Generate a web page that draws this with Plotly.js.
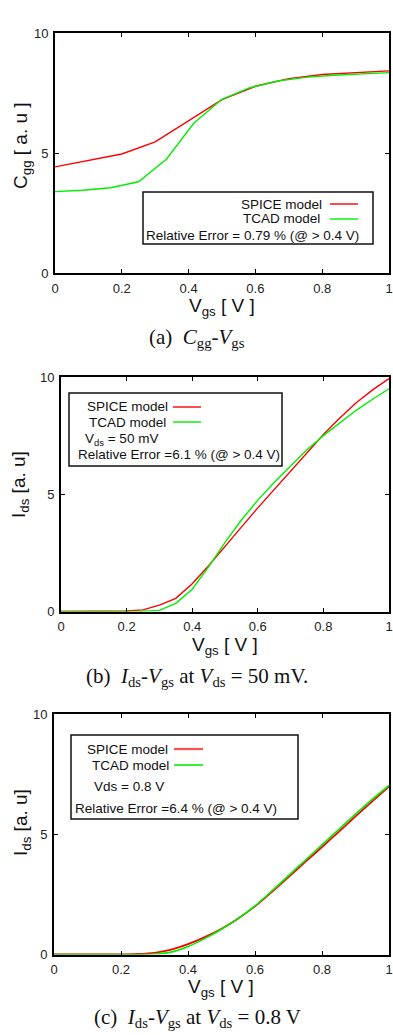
<!DOCTYPE html>
<html>
<head>
<meta charset="utf-8">
<script src="https://cdn.plot.ly/plotly-3.0.1.min.js"></script>
<style>html,body{margin:0;padding:0;background:#fff;}#chart{width:393px;height:1035px;}</style>
</head>
<body>
<div id="chart"></div>
<script>
// ---- data ----
const xTickVals = [0, 0.2, 0.4, 0.6, 0.8, 1];
const xTickText = ["0", "0.2", "0.4", "0.6", "0.8", "1"];
const yTickVals = [0, 5, 10];
const yTickText = ["0", "5", "10"];

// (a) Cgg-Vgs
const cggSpiceV = [0, 0.1, 0.2, 0.3, 0.4, 0.5, 0.6, 0.7, 0.8, 0.9, 1.0];
const cggSpice  = [4.42, 4.68, 4.96, 5.46, 6.33, 7.22, 7.78, 8.10, 8.27, 8.36, 8.42];
const cggTcadV  = [0, 0.0833, 0.1667, 0.25, 0.3333, 0.4167, 0.5, 0.5833, 0.6667, 0.75, 0.8333, 0.9167, 1.0];
const cggTcad   = [3.39, 3.45, 3.55, 3.80, 4.74, 6.26, 7.24, 7.72, 8.00, 8.15, 8.24, 8.30, 8.35];

// (b) Ids-Vgs at Vds = 50 mV
const vgsB       = [0, 0.05, 0.1, 0.15, 0.2, 0.25, 0.3, 0.35, 0.4, 0.45, 0.5, 0.55, 0.6, 0.65, 0.7, 0.75, 0.8, 0.85, 0.9, 0.95, 1.0];
const idsSpiceB  = [0, 0, 0, 0.01, 0.02, 0.07, 0.27, 0.56, 1.18, 1.95, 2.80, 3.60, 4.42, 5.20, 5.98, 6.75, 7.55, 8.25, 8.90, 9.45, 9.93];
const idsTcadB   = [0, 0, 0, 0, 0, 0.01, 0.05, 0.35, 0.95, 1.90, 2.95, 3.90, 4.75, 5.50, 6.20, 6.90, 7.50, 8.05, 8.58, 9.05, 9.50];

// (c) Ids-Vgs at Vds = 0.8 V
const vgsC       = [0, 0.05, 0.1, 0.15, 0.2, 0.25, 0.3, 0.35, 0.4, 0.45, 0.5, 0.55, 0.6, 0.65, 0.7, 0.75, 0.8, 0.85, 0.9, 0.95, 1.0];
const idsSpiceC  = [0, 0, 0, 0, 0, 0.02, 0.07, 0.20, 0.43, 0.72, 1.07, 1.50, 2.00, 2.60, 3.22, 3.85, 4.47, 5.10, 5.74, 6.37, 6.98];
const idsTcadC   = [0, 0, 0, 0, 0, 0, 0.02, 0.10, 0.33, 0.66, 1.05, 1.50, 2.02, 2.64, 3.28, 3.92, 4.56, 5.20, 5.84, 6.45, 7.03];

const seriesNames = ["SPICE model", "TCAD model"];
const legendNotes = [
  "Relative Error = 0.79 % (@ > 0.4 V)",
  "V<sub>ds</sub> = 50 mV",
  "Relative Error =6.1 % (@ > 0.4 V)",
  "Vds = 0.8 V",
  "Relative Error =6.4 % (@ > 0.4 V)"
];
const xTitle = "V<sub>gs</sub> [ V ]";
const yTitles = ["C<sub>gg</sub> [ a. u ]", "I<sub>ds</sub> [a. u]", "I<sub>ds</sub> [a. u]"];
const captions = [
  "(a)&nbsp; <i>C</i><sub>gg</sub>-<i>V</i><sub>gs</sub>",
  "(b)&nbsp; <i>I</i><sub>ds</sub>-<i>V</i><sub>gs</sub> at <i>V</i><sub>ds</sub> = 50 mV.",
  "(c)&nbsp; <i>I</i><sub>ds</sub>-<i>V</i><sub>gs</sub> at <i>V</i><sub>ds</sub> = 0.8 V"
];

// ---- layout helpers ----
const W = 393, H = 1035;
const PX = x => x / W;
const PY = y => 1 - y / H;
const RED = "#ff0000", GREEN = "#00ee00";
const SANS = "Liberation Sans, Arial, sans-serif";
const SERIF = "Liberation Serif, Times New Roman, serif";

function xa(dom, anchor) {
  return {
    domain: dom, anchor: anchor, range: [0, 1], tickmode: "array",
    tickvals: xTickVals, ticktext: xTickText,
    showline: true, linecolor: "#000", linewidth: 2, mirror: "allticks",
    ticks: "inside", ticklen: 4, tickwidth: 1, tickcolor: "#000",
    showgrid: false, zeroline: false, fixedrange: true,
    tickfont: {family: SANS, size: 13, color: "#222"}, ticklabelstandoff: 2
  };
}
function ya(dom, anchor) {
  return {
    domain: dom, anchor: anchor, range: [0, 10], tickmode: "array",
    tickvals: yTickVals, ticktext: yTickText,
    showline: true, linecolor: "#000", linewidth: 2, mirror: "allticks",
    ticks: "inside", ticklen: 4, tickwidth: 1, tickcolor: "#000",
    showgrid: false, zeroline: false, fixedrange: true,
    tickfont: {family: SANS, size: 13, color: "#222"}, ticklabelstandoff: 2
  };
}

const traces = [
  {x: cggSpiceV, y: cggSpice, xaxis: "x", yaxis: "y", mode: "lines", name: seriesNames[0], line: {color: RED, width: 1.4}},
  {x: cggTcadV, y: cggTcad, xaxis: "x", yaxis: "y", mode: "lines", name: seriesNames[1], line: {color: GREEN, width: 1.4}},
  {x: vgsB, y: idsSpiceB, xaxis: "x2", yaxis: "y2", mode: "lines", name: seriesNames[0], line: {color: RED, width: 1.4}},
  {x: vgsB, y: idsTcadB, xaxis: "x2", yaxis: "y2", mode: "lines", name: seriesNames[1], line: {color: GREEN, width: 1.4}},
  {x: vgsC, y: idsSpiceC, xaxis: "x3", yaxis: "y3", mode: "lines", name: seriesNames[0], line: {color: RED, width: 1.8, shape: "spline", smoothing: 0.6}},
  {x: vgsC, y: idsTcadC, xaxis: "x3", yaxis: "y3", mode: "lines", name: seriesNames[1], line: {color: GREEN, width: 1.6, shape: "spline", smoothing: 0.6}}
];

function rect(x0, y0, x1, y1) {
  return {type: "rect", xref: "paper", yref: "paper", x0: PX(x0), x1: PX(x1), y0: PY(y1), y1: PY(y0),
          line: {color: "#111", width: 1.5}, fillcolor: "rgba(255,255,255,1)", layer: "above"};
}
function seg(x0, x1, y, color, w) {
  return {type: "line", xref: "paper", yref: "paper", x0: PX(x0), x1: PX(x1), y0: PY(y), y1: PY(y),
          line: {color: color, width: w}, layer: "above"};
}
function txt(t, x, y, xanchor, size, family, angle) {
  return {text: t, xref: "paper", yref: "paper", x: PX(x), y: PY(y), xanchor: xanchor, yanchor: "middle",
          showarrow: false, borderpad: 0, textangle: angle || 0,
          font: {family: family || SANS, size: size, color: "#111"}};
}

const shapes = [
  rect(143, 192, 373, 244), seg(330, 358, 204, RED, 1.4), seg(330, 358, 219, GREEN, 1.4),
  rect(69, 393, 282, 466), seg(173, 201, 407, RED, 1.4), seg(173, 201, 422, GREEN, 1.4),
  rect(71, 735, 298, 819), seg(174, 203, 749, "#ff5050", 2.2), seg(174, 203, 765, GREEN, 1.6)
];

const annotations = [
  // legend texts
  txt(seriesNames[0], 323, 204, "right", 13.5),
  txt(seriesNames[1], 321, 219, "right", 13.5),
  txt(legendNotes[0], 145, 235, "left", 13.5),
  txt(seriesNames[0], 86, 407, "left", 13.5),
  txt(seriesNames[1], 88, 422, "left", 13.5),
  txt(legendNotes[1], 84, 439, "left", 13.5),
  txt(legendNotes[2], 77, 455, "left", 13.5),
  txt(seriesNames[0], 86, 749, "left", 13.5),
  txt(seriesNames[1], 91, 765, "left", 13.5),
  txt(legendNotes[3], 93, 786, "left", 13.5),
  txt(legendNotes[4], 74, 808, "left", 13.5),
  // axis titles
  txt(xTitle, 222, 306.5, "center", 19),
  txt(xTitle, 225, 646, "center", 19),
  txt(xTitle, 221, 988, "center", 19),
  txt(yTitles[0], 22, 146, "center", 19, SANS, -90),
  txt(yTitles[1], 20, 485, "center", 19, SANS, -90),
  txt(yTitles[2], 22, 823, "center", 19, SANS, -90),
  // captions
  txt(captions[0], 197, 338, "center", 21, SERIF),
  txt(captions[1], 197, 677, "center", 21, SERIF),
  txt(captions[2], 197, 1018, "center", 21, SERIF)
];

const layout = {
  width: W, height: H, margin: {l: 0, r: 0, t: 0, b: 0},
  paper_bgcolor: "#fff", plot_bgcolor: "#fff", showlegend: false,
  xaxis: xa([PX(55), PX(389)], "y"),
  yaxis: ya([PY(273), PY(33)], "x"),
  xaxis2: xa([PX(61), PX(389)], "y2"),
  yaxis2: ya([PY(611.5), PY(377)], "x2"),
  xaxis3: xa([PX(54), PX(389)], "y3"),
  yaxis3: ya([PY(954.5), PY(714)], "x3"),
  shapes: shapes, annotations: annotations
};

Plotly.newPlot("chart", traces, layout, {staticPlot: true, displayModeBar: false});
</script>
</body>
</html>
